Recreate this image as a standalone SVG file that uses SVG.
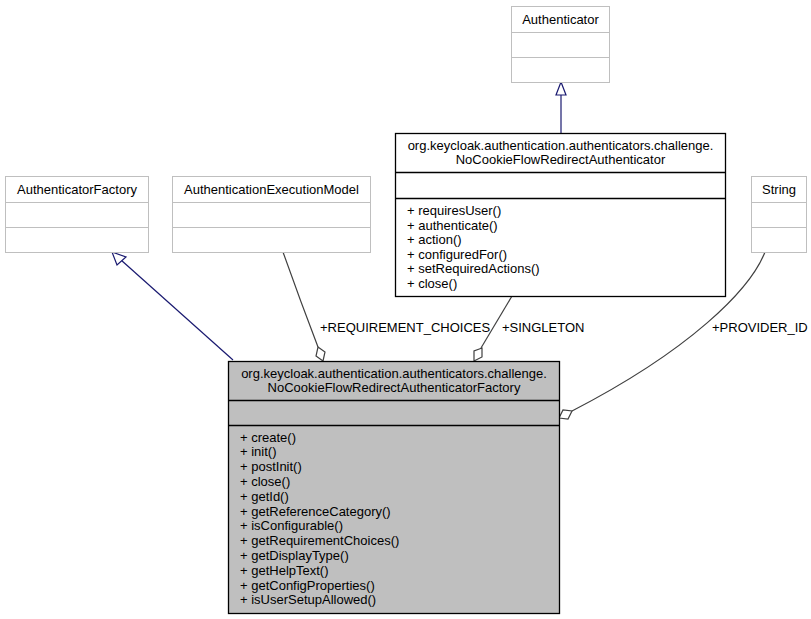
<svg xmlns="http://www.w3.org/2000/svg" width="811" height="619" viewBox="0 0 811 619">
<style>
text{font-family:"Liberation Sans",Arial,sans-serif;font-size:13px;fill:#000}
.c{text-anchor:middle}
.gbox{fill:#fff;stroke:#bfbfbf;stroke-width:1}
.bbox{fill:#fff;stroke:#000;stroke-width:1.3}
.mbox{fill:#bfbfbf;stroke:#000;stroke-width:1.3}
.gen{fill:none;stroke:#191970;stroke-width:1.2}
.genh{fill:#fff;stroke:#191970;stroke-width:1.2}
.agg{fill:none;stroke:#404040;stroke-width:1.2}
.aggh{fill:#fff;stroke:#404040;stroke-width:1.2}
</style>
<rect width="811" height="619" fill="#fff"/>
<g id="connectors">
<path class="gen" d="M233,360 L121,260"/>
<polygon class="genh" points="112,252 117,265 126,257"/>
<path class="gen" d="M561,133 L561,95"/>
<polygon class="genh" points="561,82 556,95 566,95"/>
<path class="agg" d="M283,252 Q300,300 318,347"/>
<polygon class="aggh" points="323,361 325,352 318,347 316,356"/>
<path class="agg" d="M512,296 L481,348"/>
<polygon class="aggh" points="474,361 482,357 482,348 474,351"/>
<path class="agg" d="M765,252 C750,290 690,350 572,411"/>
<polygon class="aggh" points="559,418 568,419 572,411 563,410"/>
<text x="320" y="332">+REQUIREMENT_CHOICES</text>
<text x="502" y="332">+SINGLETON</text>
<text x="712" y="332">+PROVIDER_ID</text>
</g>
<g id="AuthenticatorFactory">
<rect class="gbox" x="5.5" y="176.5" width="143" height="76"/>
<path class="gbox" d="M5.5,202.5 H148.5 M5.5,227.5 H148.5"/>
<text class="c" x="77" y="194">AuthenticatorFactory</text>
</g>
<g id="AuthenticationExecutionModel">
<rect class="gbox" x="172.5" y="176.5" width="198" height="76"/>
<path class="gbox" d="M172.5,202.5 H370.5 M172.5,227.5 H370.5"/>
<text class="c" x="271.5" y="194">AuthenticationExecutionModel</text>
</g>
<g id="Authenticator">
<rect class="gbox" x="511.5" y="6.5" width="98" height="76"/>
<path class="gbox" d="M511.5,32.5 H609.5 M511.5,57.5 H609.5"/>
<text class="c" x="560.5" y="24">Authenticator</text>
</g>
<g id="String">
<rect class="gbox" x="751.5" y="176.5" width="55" height="76"/>
<path class="gbox" d="M751.5,202.5 H806.5 M751.5,227.5 H806.5"/>
<text class="c" x="779" y="194">String</text>
</g>
<g id="NoCookieFlowRedirectAuthenticator">
<rect class="bbox" x="395.5" y="133.5" width="330" height="163"/>
<path class="bbox" d="M395.5,172.5 H725.5 M395.5,198.5 H725.5"/>
<text class="c" x="560.5" y="150">org.keycloak.authentication.authenticators.challenge.</text>
<text class="c" x="560.5" y="164">NoCookieFlowRedirectAuthenticator</text>
<text x="407" y="215">+ requiresUser()</text>
<text x="407" y="229.6">+ authenticate()</text>
<text x="407" y="244.2">+ action()</text>
<text x="407" y="258.8">+ configuredFor()</text>
<text x="407" y="273.4">+ setRequiredActions()</text>
<text x="407" y="288">+ close()</text>
</g>
<g id="NoCookieFlowRedirectAuthenticatorFactory">
<rect class="mbox" x="228.5" y="361.5" width="331" height="252"/>
<path class="mbox" d="M228.5,400.5 H559.5 M228.5,425.5 H559.5"/>
<text class="c" x="394" y="378">org.keycloak.authentication.authenticators.challenge.</text>
<text class="c" x="394" y="392">NoCookieFlowRedirectAuthenticatorFactory</text>
<text x="240" y="441.5">+ create()</text>
<text x="240" y="456.3">+ init()</text>
<text x="240" y="471.1">+ postInit()</text>
<text x="240" y="485.9">+ close()</text>
<text x="240" y="500.7">+ getId()</text>
<text x="240" y="515.5">+ getReferenceCategory()</text>
<text x="240" y="530.3">+ isConfigurable()</text>
<text x="240" y="545.1">+ getRequirementChoices()</text>
<text x="240" y="559.9">+ getDisplayType()</text>
<text x="240" y="574.7">+ getHelpText()</text>
<text x="240" y="589.5">+ getConfigProperties()</text>
<text x="240" y="604.3">+ isUserSetupAllowed()</text>
</g>
</svg>
